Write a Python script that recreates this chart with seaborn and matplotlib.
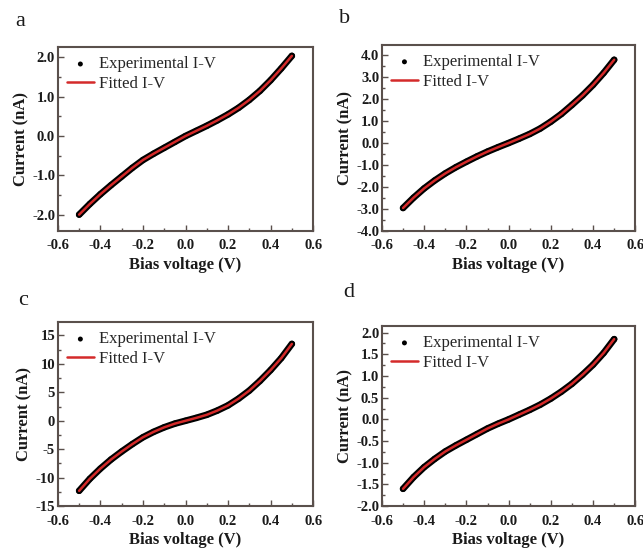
import matplotlib
matplotlib.use("Agg")
import matplotlib.pyplot as plt
import seaborn as sns
import numpy as np
import pandas as pd

# ---------------- data ----------------
bias = [-0.50, -0.45, -0.40, -0.35, -0.30, -0.25, -0.20, -0.15, -0.10, -0.05,
        0.00, 0.05, 0.10, 0.15, 0.20, 0.25, 0.30, 0.35, 0.40, 0.45, 0.50]

current_a = [-2.00, -1.73, -1.48, -1.25, -1.03, -0.81, -0.61, -0.45, -0.30, -0.15,
             0.00, 0.13, 0.26, 0.40, 0.55, 0.72, 0.92, 1.15, 1.42, 1.72, 2.04]
current_b = [-2.95, -2.48, -2.06, -1.70, -1.38, -1.10, -0.85, -0.61, -0.39, -0.19,
             0.00, 0.20, 0.41, 0.66, 0.97, 1.32, 1.73, 2.16, 2.64, 3.18, 3.78]
current_c = [-12.3, -10.2, -8.4, -6.8, -5.4, -4.1, -2.9, -1.95, -1.15, -0.5,
             0.0, 0.5, 1.05, 1.8, 2.7, 3.9, 5.3, 7.0, 8.9, 11.0, 13.5]
current_d = [-1.60, -1.33, -1.10, -0.91, -0.74, -0.60, -0.47, -0.34, -0.21, -0.10,
             0.00, 0.11, 0.22, 0.34, 0.48, 0.64, 0.82, 1.03, 1.26, 1.53, 1.85]

panel_letters = ["a", "b", "c", "d"]
x_ticks = [-0.6, -0.4, -0.2, 0.0, 0.2, 0.4, 0.6]
y_ticks_a = [-2.0, -1.0, 0.0, 1.0, 2.0]
y_ticks_b = [-4.0, -3.0, -2.0, -1.0, 0.0, 1.0, 2.0, 3.0, 4.0]
y_ticks_c = [-15, -10, -5, 0, 5, 10, 15]
y_ticks_d = [-2.0, -1.5, -1.0, -0.5, 0.0, 0.5, 1.0, 1.5, 2.0]

legend_exp = "Experimental I-V"
legend_fit = "Fitted I-V"
x_label = "Bias voltage (V)"
y_label = "Current (nA)"

# ---------------- style ----------------
sns.set_theme(style="ticks")
plt.rcParams["font.family"] = ["Liberation Serif", "DejaVu Serif"]
plt.rcParams["axes.unicode_minus"] = False
frame_col = "#5a504c"
red = "#d42a2a"

fig = plt.figure(figsize=(6.43, 5.49), dpi=100)

panels = [
    dict(cur=current_a, yt=y_ticks_a, ylim=(-2.42, 2.26), fmt="{:.1f}", minor=0.5,
         rect=[0.090, 0.579, 0.397, 0.335], letter_xy=(0.031, 0.960)),
    dict(cur=current_b, yt=y_ticks_b, ylim=(-4.0, 4.45), fmt="{:.1f}", minor=0.5,
         rect=[0.594, 0.579, 0.394, 0.339], letter_xy=(0.536, 0.966)),
    dict(cur=current_c, yt=y_ticks_c, ylim=(-15.0, 17.3), fmt="{:d}", minor=2.5,
         rect=[0.090, 0.078, 0.397, 0.335], letter_xy=(0.036, 0.452)),
    dict(cur=current_d, yt=y_ticks_d, ylim=(-2.0, 2.15), fmt="{:.1f}", minor=0.25,
         rect=[0.594, 0.078, 0.394, 0.328], letter_xy=(0.543, 0.468)),
]

for letter, p in zip(panel_letters, panels):
    ax = fig.add_axes(p["rect"])
    df = pd.DataFrame({"V": bias, "I": p["cur"]})
    # experimental data: dense black points forming a thick trace
    sns.lineplot(data=df, x="V", y="I", ax=ax, color="black", lw=4.8,
                 legend=False, zorder=2)
    sns.scatterplot(data=df, x="V", y="I", ax=ax, color="black", s=20,
                    edgecolor="none", marker="o", label=legend_exp, zorder=3)
    # fitted curve
    sns.lineplot(data=df, x="V", y="I", ax=ax, color=red, lw=1.8,
                 label=legend_fit, zorder=4)

    ax.set_xlim(-0.6, 0.6)
    ax.set_ylim(*p["ylim"])
    ax.set_xticks(x_ticks)
    ax.set_xticklabels(["{:.1f}".format(v) for v in x_ticks])
    ax.set_yticks(p["yt"])
    ax.set_yticklabels([p["fmt"].format(v) for v in p["yt"]])
    ax.xaxis.set_minor_locator(matplotlib.ticker.MultipleLocator(0.1))
    ax.yaxis.set_minor_locator(matplotlib.ticker.MultipleLocator(p["minor"]))
    ax.tick_params(which="both", direction="in", colors=frame_col,
                   labelcolor="#1a1a1a", width=1.0)
    ax.tick_params(which="major", length=4, labelsize=10.5)
    ax.tick_params(axis="y", which="major", pad=2)
    ax.tick_params(axis="x", which="major", pad=6)
    ax.tick_params(which="minor", length=2.5)
    for lab in ax.get_xticklabels() + ax.get_yticklabels():
        lab.set_fontweight("bold")
    for s in ax.spines.values():
        s.set_color(frame_col)
        s.set_linewidth(1.5)
    ax.set_xlabel(x_label, fontsize=12, fontweight="bold", color="#1a1a1a",
                  labelpad=3)
    ax.set_ylabel(y_label, fontsize=12, fontweight="bold", color="#1a1a1a",
                  labelpad=2)
    leg = ax.legend(loc="upper left", frameon=False, fontsize=12,
                    handlelength=1.6, handletextpad=0.3, labelspacing=0.2,
                    borderaxespad=0.25, borderpad=0.3, markerscale=0.8)
    fig.text(p["letter_xy"][0], p["letter_xy"][1], letter, fontsize=16,
             ha="center", va="center", color="#1a1a1a")

fig.savefig("out.png", dpi=100)
